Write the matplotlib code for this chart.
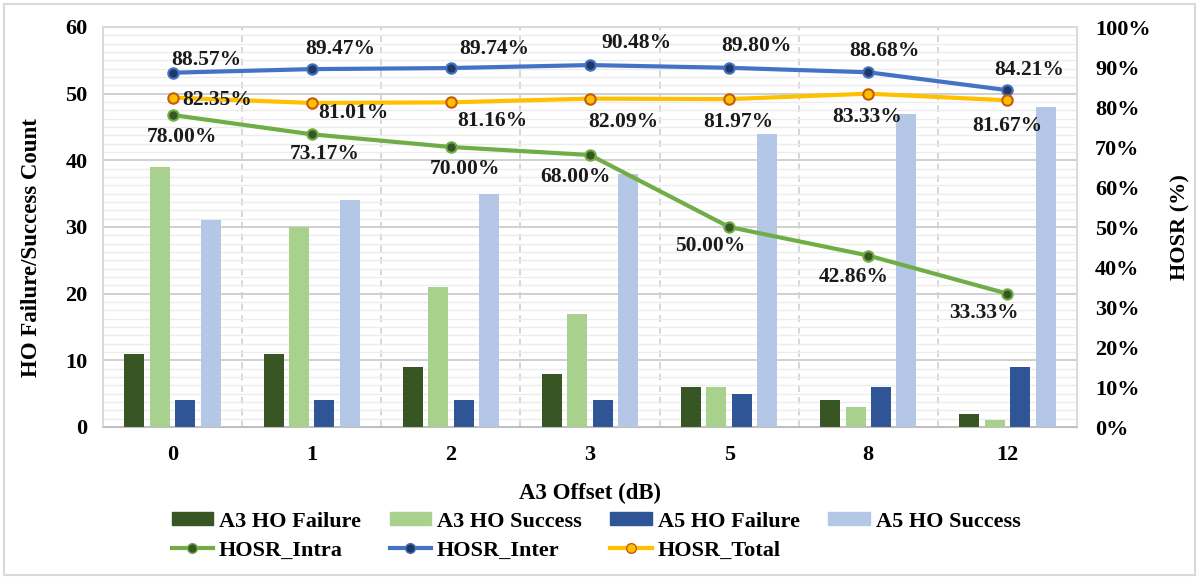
import matplotlib
matplotlib.use("Agg")
import matplotlib.pyplot as plt
import numpy as np
from matplotlib.patches import Patch, Rectangle
from matplotlib.lines import Line2D
from matplotlib.ticker import MultipleLocator, FuncFormatter

plt.rcParams['font.family'] = ['Liberation Serif', 'DejaVu Serif']
plt.rcParams['font.weight'] = 'bold'

categories = ['0', '1', '2', '3', '5', '8', '12']
a3_fail = [11, 11, 9, 8, 6, 4, 2]
a3_succ = [39, 30, 21, 17, 6, 3, 1]
a5_fail = [4, 4, 4, 4, 5, 6, 9]
a5_succ = [31, 34, 35, 38, 44, 47, 48]
hosr_intra = [78.00, 73.17, 70.00, 68.00, 50.00, 42.86, 33.33]
hosr_inter = [88.57, 89.47, 89.74, 90.48, 89.80, 88.68, 84.21]
hosr_total = [82.35, 81.01, 81.16, 82.09, 81.97, 83.33, 81.67]

# label offsets in pixels (dx, dy)
off_intra = [(9, -22), (13, -20), (14, -22), (-15, -22), (-19, -19), (-15, -21), (-23, -19)]
off_inter = [(34, 13), (29, 20), (43, 19), (46, 22), (27, 22), (16, 21), (22, 20)]
off_total = [(45, -2), (42, -10), (41, -19), (33, -23), (9, -23), (-1, -23), (0, -26)]

W, H = 1197, 579
fig = plt.figure(figsize=(W / 100, H / 100), dpi=100)
L, R, T, B = 103, 1077, 27, 427
ax = fig.add_axes([L / W, 1 - B / H, (R - L) / W, (B - T) / H])
ax2 = ax.twinx()

x = np.arange(len(categories))
bw = 0.144
pitch = 0.183
c_a3f, c_a3s, c_a5f, c_a5s = '#375623', '#A9D18E', '#2F5597', '#B4C7E7'
for i, (vals, col) in enumerate([(a3_fail, c_a3f), (a3_succ, c_a3s), (a5_fail, c_a5f), (a5_succ, c_a5s)]):
    ax.bar(x + (i - 1.5) * pitch, vals, width=bw, color=col, zorder=3, edgecolor='none')

ax.set_xlim(-0.5, len(categories) - 0.5)
ax.set_ylim(0, 60)
ax.yaxis.set_major_locator(MultipleLocator(10))
ax.yaxis.set_minor_locator(MultipleLocator(1.25))
ax.grid(which='major', axis='y', color='#d0d0d0', lw=1.4, zorder=0)
ax.grid(which='minor', axis='y', color='#ececec', lw=1.0, zorder=0)
for b in np.arange(0.5, len(categories) - 0.5, 1):
    ax.axvline(b, color='#d0d0d0', lw=1.2, ls=(0, (4, 3)), zorder=0)
ax.set_axisbelow(True)
ax.set_xticks(x)
ax.set_xticklabels(categories)
ax.tick_params(axis='both', which='both', length=0, labelsize=16)
ax.tick_params(axis='x', pad=13)
ax.tick_params(axis='y', pad=11)

for sp in ['top', 'left', 'right']:
    ax.spines[sp].set_color('#d9d9d9')
    ax2.spines[sp].set_color('#d9d9d9')
ax.spines['bottom'].set_color('#bfbfbf')
ax2.spines['bottom'].set_color('#bfbfbf')
for sp in ax.spines.values():
    sp.set_linewidth(1.3)

ax2.set_ylim(0, 100)
ax2.yaxis.set_major_locator(MultipleLocator(10))
ax2.yaxis.set_major_formatter(FuncFormatter(lambda v, p: f'{int(round(v))}%'))
ax2.tick_params(axis='y', length=0, labelsize=16, pad=13)

line_specs = [
    (hosr_intra, '#70AD47', '#375623', '#70AD47', off_intra),
    (hosr_inter, '#4472C4', '#203864', '#4472C4', off_inter),
    (hosr_total, '#FFC000', '#FFC000', '#C55A11', off_total),
]
for vals, lc, mfc, mec, offs in line_specs:
    ax2.plot(x, vals, color=lc, lw=3, marker='o', ms=7.5, mfc=mfc, mec=mec, mew=1.5, zorder=4)
    for xi, v, (dx, dy) in zip(x, vals, offs):
        ax2.annotate(f'{v:.2f}%', (xi, v), xytext=(dx, dy), textcoords='offset pixels',
                     ha='center', va='center', fontsize=15.5, fontweight='bold', color='#1a1a1a', zorder=5)

ax.set_ylabel('HO Failure/Success Count', fontsize=16.5, fontweight='bold')
ax.yaxis.set_label_coords((42 - L) / (R - L), (B - 248) / (B - T))
ax2.set_ylabel('HOSR (%)', fontsize=16, fontweight='bold')
ax2.yaxis.set_label_coords((1170 - L) / (R - L), 0.5)
ax.set_xlabel('A3 Offset (dB)', fontsize=16.5, fontweight='bold')
ax.xaxis.set_label_coords(0.5, (B - 483) / (B - T))

handles = [
    Patch(color=c_a3f, label='A3 HO Failure'),
    Line2D([], [], color='#70AD47', lw=3, marker='o', ms=7, mfc='#375623', mec='#70AD47', label='HOSR_Intra'),
    Patch(color=c_a3s, label='A3 HO Success'),
    Line2D([], [], color='#4472C4', lw=3, marker='o', ms=7, mfc='#203864', mec='#4472C4', label='HOSR_Inter'),
    Patch(color=c_a5f, label='A5 HO Failure'),
    Line2D([], [], color='#FFC000', lw=3, marker='o', ms=7, mfc='#FFC000', mec='#C55A11', label='HOSR_Total'),
    Patch(color=c_a5s, label='A5 HO Success'),
]
fig.legend(handles=handles, ncol=4, loc='center', bbox_to_anchor=(596 / W, 1 - 536 / H),
           frameon=False, fontsize=16, handlelength=1.85, handleheight=0.5, handletextpad=0.27,
           columnspacing=1.3, labelspacing=0.4, borderpad=0.2)

fig.patches.append(Rectangle((4 / W, 4 / H), 1191 / W, 571 / H, transform=fig.transFigure,
                             fill=False, edgecolor='#d9d9d9', lw=1.5))

fig.savefig('out.png', dpi=100)
